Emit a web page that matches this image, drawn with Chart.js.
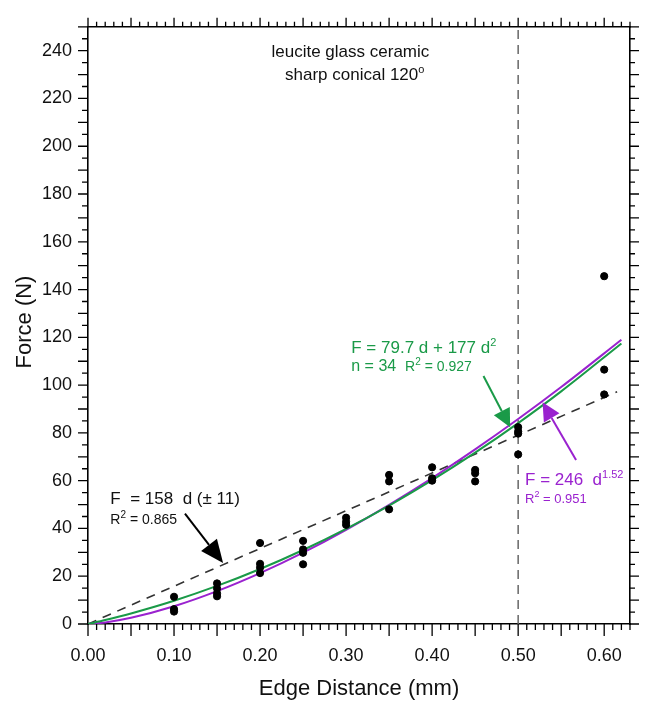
<!DOCTYPE html>
<html><head><meta charset="utf-8">
<script src="https://cdn.jsdelivr.net/npm/chart.js@4/dist/chart.umd.min.js"></script>
<style>html,body{margin:0;padding:0;background:#fff;}</style>
</head><body>
<canvas id="c" width="651" height="713"></canvas>
<script>
// ---- data ----
const edgeDistance = [0.10,0.10,0.10, 0.15,0.15,0.15,0.15, 0.20,0.20,0.20,0.20, 0.25,0.25,0.25,0.25,
  0.30,0.30,0.30, 0.35,0.35,0.35, 0.40,0.40,0.40, 0.45,0.45,0.45, 0.50,0.50,0.50,0.50, 0.60,0.60,0.60];
const force = [11.4,6.2,5.2, 17.0,14.9,12.8,11.6, 33.9,25.2,23.6,21.3, 34.8,31.2,29.8,25.0,
  44.5,42.8,41.5, 62.4,59.7,48.0, 65.6,61.0,60.0, 64.5,63.1,59.7, 82.4,80.6,79.7,71.0, 145.6,106.5,96.1];
const fitDistance = [0, 0.02, 0.05, 0.10, 0.15, 0.20, 0.25, 0.30, 0.35, 0.40, 0.45, 0.50, 0.55, 0.62];
const quadraticFit = [0, 1.66, 4.43, 9.74, 15.94, 23.02, 30.99, 39.84, 49.58, 60.20, 71.71, 84.10, 97.38, 117.45];
const powerFit = [0, 0.64, 2.59, 7.43, 13.76, 21.31, 29.90, 39.45, 49.88, 61.10, 73.10, 85.80, 99.20, 119.0];
const linearFitDistance = [0, 0.615];
const linearFit = [0, 97.2];
const guideDistance = 0.5;
const guideForce = [0, 250];
const xTickValues = [0, 0.1, 0.2, 0.3, 0.4, 0.5, 0.6];
const yTickValues = [0, 20, 40, 60, 80, 100, 120, 140, 160, 180, 200, 220, 240];

const FONT = '"Liberation Sans", Arial, Helvetica, sans-serif';
const GREEN = '#1a9a48';
const PURPLE = '#9a22cf';

const pts = (xs, ys) => xs.map((v, i) => ({x: v, y: ys[i]}));

const annotations = {
  texts: [
    {x: 0.305, y: 237.2, align: 'center', color: '#111', parts: [{t: 'leucite glass ceramic', s: 17}]},
    {x: 0.31, y: 227.7, align: 'center', color: '#111', parts: [{t: 'sharp conical 120', s: 17}, {t: 'o', s: 11, up: 7}]},
    {x: 0.026, y: 50.2, color: '#111', parts: [{t: 'F  = 158  d (\u00b1 11)', s: 17}]},
    {x: 0.026, y: 42.0, color: '#111', parts: [{t: 'R', s: 14}, {t: '2', s: 10, up: 6}, {t: ' = 0.865', s: 14}]},
    {x: 0.306, y: 113.4, color: GREEN, parts: [{t: 'F = 79.7 d + 177 d', s: 17}, {t: '2', s: 11, up: 7}]},
    {x: 0.306, y: 106.0, color: GREEN, parts: [{t: 'n = 34  ', s: 16}, {t: 'R', s: 14}, {t: '2', s: 10, up: 6}, {t: ' = 0.927', s: 14}]},
    {x: 0.508, y: 58.3, color: PURPLE, parts: [{t: 'F = 246  d', s: 17}, {t: '1.52', s: 11, up: 7}]},
    {x: 0.508, y: 50.7, color: PURPLE, parts: [{t: 'R', s: 13}, {t: '2', s: 9, up: 6}, {t: ' = 0.951', s: 13}]}
  ],
  arrows: [
    {x1: 0.1127, y1: 46.2, x2: 0.157, y2: 25.5, color: '#000', head: 23, half: 10},
    {x1: 0.4597, y1: 103.8, x2: 0.4907, y2: 82.4, color: GREEN, head: 18, half: 9},
    {x1: 0.5673, y1: 68.7, x2: 0.5284, y2: 92.8, color: PURPLE, head: 18, half: 9}
  ]
};

function drawParts(ctx, x, y, parts, align) {
  let total = 0;
  for (const p of parts) { ctx.font = p.s + 'px ' + FONT; total += ctx.measureText(p.t).width; }
  let cx = align === 'center' ? x - total / 2 : x;
  ctx.textAlign = 'left';
  ctx.textBaseline = 'alphabetic';
  for (const p of parts) {
    ctx.font = p.s + 'px ' + FONT;
    ctx.fillText(p.t, cx, y - (p.up || 0));
    cx += ctx.measureText(p.t).width;
  }
}

const decoPlugin = {
  id: 'deco',
  afterDraw(chart) {
    const {ctx, chartArea: a, scales: {x, y}} = chart;
    ctx.save();
    // minor / major tick marks on all four sides
    ctx.strokeStyle = '#000';
    ctx.lineWidth = 1.3;
    ctx.beginPath();
    for (let i = 0; i <= 63; i++) {
      const px = x.getPixelForValue(i / 100);
      const major = i % 5 === 0;
      ctx.moveTo(px, a.bottom); ctx.lineTo(px, a.bottom + (major ? 12 : 6));
      ctx.moveTo(px, a.top); ctx.lineTo(px, a.top - (major ? 9 : 5));
    }
    for (let v = 0; v <= 250; v += 5) {
      const py = y.getPixelForValue(v);
      const major = v % 10 === 0;
      ctx.moveTo(a.left, py); ctx.lineTo(a.left - (major ? 10 : 6), py);
      ctx.moveTo(a.right, py); ctx.lineTo(a.right + (major ? 9 : 5), py);
    }
    ctx.stroke();

    // axis titles
    ctx.fillStyle = '#111';
    ctx.font = '22px ' + FONT;
    ctx.textAlign = 'center';
    ctx.textBaseline = 'middle';
    ctx.fillText('Edge Distance (mm)', (a.left + a.right) / 2, 689);
    ctx.save();
    ctx.translate(25, 322);
    ctx.rotate(-Math.PI / 2);
    ctx.fillText('Force (N)', 0, 0);
    ctx.restore();

    // arrows
    for (const ar of annotations.arrows) {
      const x1 = x.getPixelForValue(ar.x1), y1 = y.getPixelForValue(ar.y1);
      const x2 = x.getPixelForValue(ar.x2), y2 = y.getPixelForValue(ar.y2);
      const ang = Math.atan2(y2 - y1, x2 - x1);
      const bx = x2 - ar.head * Math.cos(ang), by = y2 - ar.head * Math.sin(ang);
      ctx.strokeStyle = ar.color; ctx.fillStyle = ar.color; ctx.lineWidth = 2;
      ctx.beginPath(); ctx.moveTo(x1, y1); ctx.lineTo(bx, by); ctx.stroke();
      ctx.beginPath();
      ctx.moveTo(x2, y2);
      ctx.lineTo(bx + ar.half * Math.sin(ang), by - ar.half * Math.cos(ang));
      ctx.lineTo(bx - ar.half * Math.sin(ang), by + ar.half * Math.cos(ang));
      ctx.closePath(); ctx.fill();
    }
    // texts
    for (const t of annotations.texts) {
      ctx.fillStyle = t.color;
      drawParts(ctx, x.getPixelForValue(t.x), y.getPixelForValue(t.y), t.parts, t.align);
    }
    ctx.restore();
  }
};

const axisBorder = {display: true, color: '#000', width: 1.6};
const noGrid = {display: false, drawOnChartArea: false, drawTicks: false};

new Chart(document.getElementById('c'), {
  type: 'scatter',
  data: {
    datasets: [
      {label: 'data', data: pts(edgeDistance, force), backgroundColor: '#000', borderColor: '#000',
        pointRadius: 3.6, pointHoverRadius: 3.6, order: 0},
      {label: 'power', data: pts(fitDistance, powerFit), showLine: true, borderColor: PURPLE, borderWidth: 2,
        pointRadius: 0, cubicInterpolationMode: 'monotone', order: 2},
      {label: 'quadratic', data: pts(fitDistance, quadraticFit), showLine: true, borderColor: GREEN, borderWidth: 2,
        pointRadius: 0, cubicInterpolationMode: 'monotone', order: 1},
      {label: 'linear', data: pts(linearFitDistance, linearFit), showLine: true, borderColor: '#333', borderWidth: 1.6,
        borderDash: [9, 7], pointRadius: 0, order: 3},
      {label: 'guide', data: guideForce.map(v => ({x: guideDistance, y: v})), showLine: true, borderColor: '#666',
        borderWidth: 1.5, borderDash: [9, 6], pointRadius: 0, order: 4}
    ]
  },
  options: {
    responsive: false,
    animation: false,
    devicePixelRatio: 1,
    layout: {padding: 0},
    plugins: {legend: {display: false}, tooltip: {enabled: false}},
    scales: {
      x: {
        type: 'linear', position: 'bottom', min: 0, max: 0.63,
        afterBuildTicks: s => { s.ticks = xTickValues.map(v => ({value: v})); },
        afterFit: s => { s.height = 89; },
        ticks: {callback: v => Number(v).toFixed(2), font: {family: FONT, size: 18}, color: '#111', padding: 21, maxRotation: 0, autoSkip: false},
        grid: noGrid, border: axisBorder
      },
      x2: {
        type: 'linear', position: 'top', min: 0, max: 0.63,
        afterFit: s => { s.height = 22; },
        ticks: {display: false}, grid: noGrid, border: axisBorder
      },
      y: {
        type: 'linear', position: 'left', min: 0, max: 250,
        afterBuildTicks: s => { s.ticks = yTickValues.map(v => ({value: v})); },
        afterFit: s => { s.width = 88; },
        ticks: {font: {family: FONT, size: 18}, color: '#111', padding: 16, autoSkip: false},
        grid: noGrid, border: axisBorder
      },
      y2: {
        type: 'linear', position: 'right', min: 0, max: 250,
        afterFit: s => { s.width = 21; },
        ticks: {display: false}, grid: noGrid, border: axisBorder
      }
    }
  },
  plugins: [decoPlugin]
});
</script>
</body></html>
